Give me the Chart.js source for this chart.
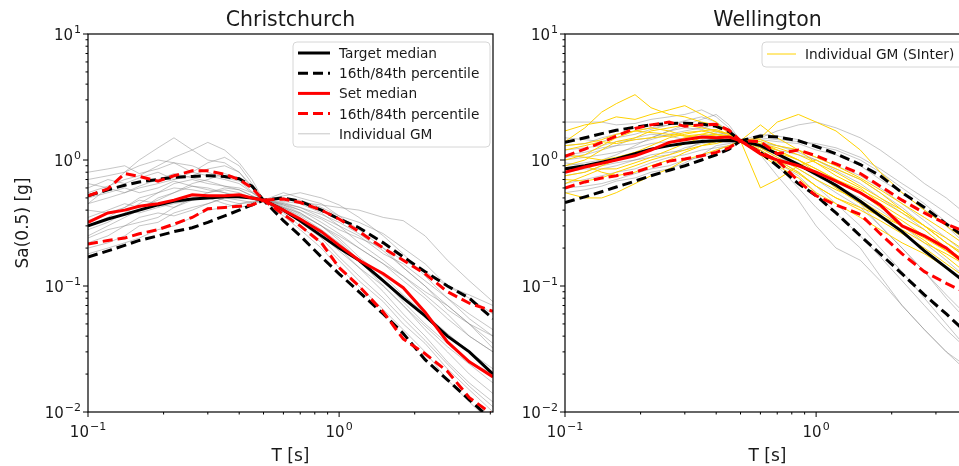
<!DOCTYPE html>
<html>
<head>
<meta charset="utf-8">
<script src="https://cdn.jsdelivr.net/npm/chart.js@4.4.0/dist/chart.umd.min.js"></script>
<style>
  html, body { margin: 0; padding: 0; background: #fff; overflow: hidden; width: 959px; height: 466px; }
  .panel { position: absolute; top: 0; width: 500px; height: 466px; }
  #panel-chc { left: 0; }
  #panel-wlg { left: 480px; }
</style>
</head>
<body>
<div class="panel" id="panel-chc"><canvas id="christchurch" width="500" height="466"></canvas></div>
<div class="panel" id="panel-wlg"><canvas id="wellington" width="500" height="466"></canvas></div>
<script>
// periods T [s]
const periods = [0.1, 0.12, 0.14, 0.16, 0.19, 0.22, 0.26, 0.3, 0.35, 0.4, 0.45, 0.5,
                 0.6, 0.7, 0.85, 1.0, 1.2, 1.5, 1.8, 2.2, 2.7, 3.3, 4.1];
const T_MAX = 4.1;

// ---- Christchurch ----
const chTargetMed = [0.30, 0.34, 0.37, 0.40, 0.44, 0.47, 0.49, 0.50, 0.51, 0.51, 0.50, 0.48,
                     0.40, 0.33, 0.25, 0.20, 0.16, 0.11, 0.08, 0.058, 0.040, 0.030, 0.020];
const chTarget84 = [0.52, 0.58, 0.63, 0.67, 0.70, 0.73, 0.74, 0.75, 0.74, 0.71, 0.62, 0.48,
                    0.50, 0.47, 0.40, 0.34, 0.29, 0.22, 0.17, 0.13, 0.10, 0.08, 0.055];
const chTarget16 = [0.17, 0.19, 0.21, 0.23, 0.25, 0.27, 0.29, 0.32, 0.36, 0.40, 0.44, 0.48,
                    0.33, 0.25, 0.17, 0.125, 0.09, 0.06, 0.042, 0.026, 0.018, 0.0125, 0.0085];
const chSetMed = [0.32, 0.38, 0.40, 0.43, 0.45, 0.48, 0.53, 0.52, 0.52, 0.53, 0.50, 0.48,
                  0.40, 0.34, 0.27, 0.21, 0.16, 0.125, 0.097, 0.062, 0.036, 0.025, 0.019];
const chSet84 = [0.52, 0.59, 0.78, 0.74, 0.68, 0.75, 0.82, 0.82, 0.77, 0.70, 0.60, 0.48,
                 0.49, 0.46, 0.40, 0.34, 0.27, 0.20, 0.16, 0.125, 0.09, 0.073, 0.063];
const chSet16 = [0.215, 0.23, 0.24, 0.26, 0.28, 0.31, 0.35, 0.41, 0.42, 0.43, 0.44, 0.48,
                 0.37, 0.30, 0.22, 0.14, 0.10, 0.062, 0.038, 0.029, 0.021, 0.013, 0.0095];
const chGM = [
  [0.45, 0.6, 0.8, 1.0, 1.25, 1.5, 1.2, 1.0, 0.95, 0.8, 0.6, 0.48, 0.42, 0.38, 0.30, 0.25, 0.2, 0.15, 0.11, 0.08, 0.055, 0.04, 0.03],
  [0.55, 0.62, 0.7, 0.75, 0.9, 1.05, 1.2, 1.38, 1.2, 0.95, 0.7, 0.48, 0.5, 0.46, 0.44, 0.42, 0.40, 0.35, 0.33, 0.25, 0.16, 0.11, 0.075],
  [0.8, 0.85, 0.9, 0.78, 0.85, 0.95, 0.8, 0.75, 0.7, 0.65, 0.55, 0.48, 0.55, 0.5, 0.45, 0.36, 0.32, 0.26, 0.2, 0.15, 0.1, 0.08, 0.06],
  [0.25, 0.3, 0.35, 0.4, 0.5, 0.55, 0.65, 0.7, 0.78, 0.72, 0.6, 0.48, 0.45, 0.4, 0.32, 0.26, 0.2, 0.15, 0.12, 0.09, 0.07, 0.05, 0.04],
  [0.2, 0.22, 0.25, 0.3, 0.32, 0.38, 0.42, 0.45, 0.5, 0.52, 0.5, 0.48, 0.38, 0.3, 0.22, 0.16, 0.11, 0.075, 0.05, 0.035, 0.022, 0.015, 0.01],
  [0.6, 0.7, 0.65, 0.72, 0.8, 0.7, 0.75, 0.85, 0.9, 0.8, 0.62, 0.48, 0.46, 0.42, 0.35, 0.3, 0.25, 0.18, 0.15, 0.11, 0.08, 0.06, 0.045],
  [0.3, 0.35, 0.42, 0.5, 0.55, 0.6, 0.58, 0.55, 0.6, 0.58, 0.52, 0.48, 0.42, 0.35, 0.26, 0.2, 0.14, 0.09, 0.06, 0.04, 0.025, 0.017, 0.012],
  [0.18, 0.2, 0.22, 0.24, 0.28, 0.3, 0.35, 0.4, 0.42, 0.45, 0.47, 0.48, 0.40, 0.33, 0.25, 0.19, 0.14, 0.1, 0.07, 0.045, 0.03, 0.02, 0.014],
  [0.7, 0.75, 0.8, 0.9, 1.0, 0.95, 0.9, 0.8, 0.72, 0.68, 0.56, 0.48, 0.47, 0.45, 0.38, 0.3, 0.22, 0.16, 0.12, 0.085, 0.06, 0.04, 0.03],
  [0.35, 0.4, 0.45, 0.42, 0.48, 0.55, 0.62, 0.6, 0.55, 0.5, 0.5, 0.48, 0.5, 0.48, 0.42, 0.36, 0.28, 0.2, 0.14, 0.1, 0.065, 0.05, 0.035],
  [0.22, 0.25, 0.3, 0.35, 0.38, 0.36, 0.4, 0.45, 0.5, 0.48, 0.46, 0.48, 0.36, 0.28, 0.2, 0.14, 0.1, 0.065, 0.045, 0.03, 0.018, 0.012, 0.008],
  [0.45, 0.5, 0.55, 0.6, 0.65, 0.7, 0.8, 0.95, 1.05, 0.9, 0.65, 0.48, 0.44, 0.4, 0.34, 0.28, 0.24, 0.2, 0.16, 0.13, 0.1, 0.085, 0.07],
  [0.28, 0.32, 0.38, 0.45, 0.55, 0.65, 0.7, 0.65, 0.62, 0.6, 0.55, 0.48, 0.43, 0.37, 0.3, 0.24, 0.17, 0.12, 0.085, 0.06, 0.042, 0.03, 0.022],
  [0.5, 0.55, 0.6, 0.55, 0.6, 0.68, 0.62, 0.58, 0.55, 0.52, 0.5, 0.48, 0.52, 0.55, 0.5, 0.44, 0.35, 0.25, 0.18, 0.12, 0.08, 0.055, 0.04],
  [0.4, 0.38, 0.42, 0.48, 0.45, 0.42, 0.48, 0.52, 0.48, 0.45, 0.46, 0.48, 0.42, 0.36, 0.28, 0.22, 0.16, 0.1, 0.07, 0.048, 0.033, 0.024, 0.017],
  [0.65, 0.6, 0.55, 0.62, 0.7, 0.78, 0.72, 0.68, 0.62, 0.58, 0.52, 0.48, 0.44, 0.38, 0.3, 0.23, 0.16, 0.11, 0.075, 0.05, 0.035, 0.025, 0.02],
  [0.24, 0.28, 0.3, 0.32, 0.35, 0.42, 0.5, 0.55, 0.58, 0.55, 0.5, 0.48, 0.45, 0.42, 0.37, 0.32, 0.26, 0.19, 0.14, 0.1, 0.07, 0.05, 0.032],
  [0.33, 0.38, 0.4, 0.38, 0.42, 0.45, 0.48, 0.5, 0.45, 0.42, 0.44, 0.48, 0.4, 0.32, 0.24, 0.17, 0.12, 0.08, 0.055, 0.037, 0.024, 0.016, 0.011]
];

// ---- Wellington ----
const wlTargetMed = [0.85, 0.9, 0.96, 1.02, 1.12, 1.22, 1.3, 1.36, 1.4, 1.42, 1.43, 1.42,
                     1.3, 1.12, 0.92, 0.77, 0.63, 0.47, 0.36, 0.27, 0.19, 0.14, 0.10];
const wlTarget84 = [1.38, 1.5, 1.62, 1.72, 1.82, 1.9, 1.95, 1.96, 1.93, 1.85, 1.68, 1.42,
                    1.55, 1.52, 1.42, 1.28, 1.12, 0.92, 0.75, 0.55, 0.42, 0.31, 0.23];
const wlTarget16 = [0.46, 0.51, 0.56, 0.61, 0.68, 0.75, 0.83, 0.9, 1.0, 1.1, 1.22, 1.42,
                    1.15, 0.9, 0.65, 0.52, 0.38, 0.25, 0.18, 0.125, 0.085, 0.06, 0.04];
const wlSetMed = [0.8, 0.88, 0.94, 1.0, 1.08, 1.2, 1.38, 1.45, 1.52, 1.5, 1.52, 1.42,
                  1.12, 1.0, 0.9, 0.8, 0.68, 0.55, 0.44, 0.3, 0.25, 0.2, 0.14];
const wlSet84 = [1.07, 1.22, 1.38, 1.55, 1.78, 1.9, 2.0, 1.85, 1.9, 1.92, 1.72, 1.42,
                 1.4, 1.12, 1.2, 1.08, 0.93, 0.78, 0.62, 0.48, 0.38, 0.31, 0.26];
const wlSet16 = [0.6, 0.67, 0.72, 0.75, 0.8, 0.88, 0.98, 1.02, 1.08, 1.15, 1.25, 1.42,
                 1.15, 1.0, 0.68, 0.52, 0.44, 0.37, 0.26, 0.18, 0.13, 0.105, 0.085];
const wlGM = [
  [2.0, 2.0, 2.0, 1.9, 1.95, 2.1, 2.2, 2.3, 2.5, 2.2, 1.8, 1.42, 1.5, 1.7, 1.9, 2.0, 1.8, 1.5, 1.2, 0.9, 0.65, 0.5, 0.35],
  [0.9, 0.95, 1.0, 1.1, 1.3, 1.5, 1.7, 1.9, 2.1, 2.3, 1.9, 1.42, 1.25, 1.1, 0.95, 0.8, 0.6, 0.45, 0.3, 0.2, 0.13, 0.08, 0.05],
  [0.6, 0.62, 0.65, 0.7, 0.78, 0.85, 0.9, 1.0, 1.05, 1.2, 1.3, 1.42, 1.2, 0.9, 0.6, 0.42, 0.3, 0.2, 0.12, 0.07, 0.045, 0.03, 0.02],
  [1.2, 1.25, 1.3, 1.4, 1.45, 1.5, 1.7, 1.8, 1.75, 1.6, 1.5, 1.42, 1.6, 1.55, 1.45, 1.3, 1.2, 1.0, 0.8, 0.6, 0.45, 0.32, 0.22],
  [0.75, 0.8, 0.9, 0.95, 1.0, 1.1, 1.15, 1.2, 1.4, 1.5, 1.45, 1.42, 1.3, 1.1, 0.85, 0.7, 0.55, 0.42, 0.3, 0.2, 0.13, 0.085, 0.055],
  [1.05, 1.1, 1.2, 1.3, 1.5, 1.6, 1.55, 1.45, 1.5, 1.65, 1.6, 1.42, 1.35, 1.3, 1.2, 1.05, 0.9, 0.75, 0.6, 0.45, 0.33, 0.24, 0.17],
  [0.55, 0.58, 0.62, 0.68, 0.72, 0.8, 0.85, 0.95, 1.1, 1.3, 1.35, 1.42, 1.1, 0.75, 0.48, 0.3, 0.2, 0.16, 0.11, 0.07, 0.045, 0.03, 0.022],
  [1.5, 1.45, 1.4, 1.5, 1.6, 1.75, 1.9, 2.0, 1.85, 1.7, 1.55, 1.42, 1.45, 1.4, 1.35, 1.2, 1.1, 0.9, 0.7, 0.55, 0.4, 0.3, 0.2],
  [0.8, 0.85, 0.85, 0.9, 1.0, 1.05, 1.1, 1.25, 1.35, 1.4, 1.5, 1.42, 1.25, 1.05, 0.9, 0.75, 0.62, 0.5, 0.4, 0.3, 0.22, 0.16, 0.11],
  [1.3, 1.35, 1.5, 1.6, 1.7, 1.8, 1.9, 2.05, 2.2, 2.0, 1.7, 1.42, 1.3, 1.2, 1.1, 1.0, 0.85, 0.7, 0.55, 0.42, 0.3, 0.22, 0.16],
  [0.65, 0.7, 0.75, 0.8, 0.85, 0.95, 1.05, 1.1, 1.2, 1.25, 1.3, 1.42, 1.15, 0.95, 0.75, 0.55, 0.38, 0.25, 0.17, 0.11, 0.07, 0.045, 0.03],
  [1.0, 1.05, 1.1, 1.15, 1.25, 1.35, 1.4, 1.5, 1.55, 1.6, 1.55, 1.42, 1.5, 1.45, 1.4, 1.35, 1.25, 1.05, 0.85, 0.65, 0.5, 0.38, 0.28],
  [0.95, 0.9, 0.95, 1.0, 1.1, 1.2, 1.3, 1.35, 1.45, 1.55, 1.5, 1.42, 1.2, 1.0, 0.8, 0.62, 0.45, 0.3, 0.2, 0.13, 0.08, 0.05, 0.03],
  [1.1, 1.15, 1.25, 1.3, 1.35, 1.45, 1.6, 1.7, 1.8, 1.9, 1.75, 1.42, 1.4, 1.3, 1.15, 1.0, 0.82, 0.65, 0.5, 0.38, 0.28, 0.2, 0.14]
];
const wlSInter = [
  [1.4, 1.8, 2.4, 2.8, 3.3, 2.6, 2.3, 2.2, 2.0, 1.9, 1.7, 1.42, 1.3, 1.2, 1.0, 0.8, 0.6, 0.45, 0.35, 0.28, 0.22, 0.18, 0.14],
  [1.7, 1.9, 2.0, 2.2, 2.1, 2.3, 2.5, 2.7, 2.3, 2.0, 1.6, 1.42, 1.9, 1.5, 1.2, 0.95, 0.75, 0.6, 0.45, 0.35, 0.28, 0.2, 0.15],
  [0.55, 0.5, 0.5, 0.55, 0.65, 0.75, 0.85, 1.0, 1.1, 1.2, 1.3, 1.42, 0.6, 0.7, 0.9, 1.0, 0.85, 0.7, 0.55, 0.4, 0.3, 0.22, 0.16],
  [0.9, 1.0, 1.2, 1.4, 1.5, 1.7, 1.8, 1.9, 1.8, 1.7, 1.6, 1.42, 1.5, 2.0, 2.3, 2.0, 1.7, 1.2, 0.8, 0.55, 0.4, 0.3, 0.22],
  [1.1, 1.05, 1.0, 1.05, 1.15, 1.3, 1.5, 1.6, 1.7, 1.75, 1.6, 1.42, 1.3, 1.15, 1.0, 0.85, 0.7, 0.55, 0.42, 0.33, 0.25, 0.19, 0.14],
  [0.75, 0.8, 0.9, 1.0, 1.15, 1.2, 1.35, 1.5, 1.6, 1.55, 1.5, 1.42, 1.2, 1.0, 0.8, 0.62, 0.5, 0.4, 0.33, 0.26, 0.2, 0.15, 0.11],
  [0.65, 0.75, 0.85, 0.85, 0.95, 1.05, 1.2, 1.35, 1.5, 1.6, 1.55, 1.42, 1.1, 0.9, 0.72, 0.55, 0.45, 0.35, 0.28, 0.22, 0.18, 0.14, 0.1],
  [1.3, 1.35, 1.45, 1.6, 1.7, 1.65, 1.6, 1.55, 1.6, 1.7, 1.6, 1.42, 1.35, 1.25, 1.1, 0.95, 0.8, 0.62, 0.5, 0.4, 0.3, 0.24, 0.18],
  [0.85, 0.9, 0.8, 0.75, 0.8, 0.9, 1.0, 1.15, 1.3, 1.4, 1.45, 1.42, 1.15, 0.95, 0.78, 0.62, 0.5, 0.42, 0.36, 0.3, 0.24, 0.19, 0.15],
  [1.0, 1.1, 1.3, 1.5, 1.7, 1.8, 1.7, 1.55, 1.5, 1.6, 1.55, 1.42, 1.45, 1.3, 1.2, 1.05, 0.9, 0.72, 0.58, 0.45, 0.35, 0.27, 0.2],
  [0.7, 0.68, 0.72, 0.8, 0.9, 1.0, 1.1, 1.2, 1.3, 1.35, 1.45, 1.42, 1.25, 1.05, 0.85, 0.7, 0.58, 0.48, 0.38, 0.3, 0.23, 0.17, 0.12],
  [1.2, 1.3, 1.4, 1.35, 1.45, 1.5, 1.55, 1.65, 1.7, 1.6, 1.5, 1.42, 1.4, 1.2, 1.0, 0.85, 0.7, 0.58, 0.48, 0.38, 0.3, 0.22, 0.17]
];

const FONT = '"DejaVu Sans", sans-serif';
const DASH = [10, 5];
const styles = {
  gm:        { borderColor: 'rgba(128,128,128,0.45)', borderWidth: 1, order: 4 },
  sinter:    { borderColor: '#ffd200', borderWidth: 1, order: 3 },
  targetMed: { borderColor: '#000000', borderWidth: 3, order: 2 },
  targetPct: { borderColor: '#000000', borderWidth: 3, borderDash: DASH, order: 2 },
  setMed:    { borderColor: '#ff0000', borderWidth: 3, order: 1 },
  setPct:    { borderColor: '#ff0000', borderWidth: 3, borderDash: DASH, order: 1 }
};

function series(values, style){
  return Object.assign({
    data: periods.map((t, i) => ({ x: t, y: values[i] })),
    pointRadius: 0,
    tension: 0,
    fill: false,
    clip: 0
  }, style);
}

function buildSets(gm, sinter, med, p16, p84, sMed, s16, s84){
  const sets = [];
  gm.forEach(v => sets.push(series(v, styles.gm)));
  sinter.forEach(v => sets.push(series(v, styles.sinter)));
  sets.push(series(med, styles.targetMed));
  sets.push(series(p84, styles.targetPct));
  sets.push(series(p16, styles.targetPct));
  sets.push(series(sMed, styles.setMed));
  sets.push(series(s84, styles.setPct));
  sets.push(series(s16, styles.setPct));
  return sets;
}

function line(ctx, x1, y1, x2, y2){
  ctx.beginPath(); ctx.moveTo(x1, y1); ctx.lineTo(x2, y2); ctx.stroke();
}

// "10" with a raised exponent, like mathtext tick labels
function powLabel(ctx, exp, x, y, align){
  ctx.font = '15px ' + FONT;
  const bw = ctx.measureText('10').width;
  const sup = exp < 0 ? '\u2212' + (-exp) : String(exp);
  ctx.font = '11px ' + FONT;
  const sw = ctx.measureText(sup).width;
  const total = bw + 1 + sw;
  const x0 = align === 'center' ? x - total / 2 : x - total;
  ctx.textAlign = 'left';
  ctx.textBaseline = 'alphabetic';
  ctx.font = '15px ' + FONT;
  ctx.fillText('10', x0, y);
  ctx.font = '11px ' + FONT;
  ctx.fillText(sup, x0 + bw + 1, y - 7);
}

function drawLegend(ctx, box, items){
  ctx.save();
  const r = 4;
  ctx.beginPath();
  ctx.moveTo(box.x + r, box.y);
  ctx.arcTo(box.x + box.w, box.y, box.x + box.w, box.y + box.h, r);
  ctx.arcTo(box.x + box.w, box.y + box.h, box.x, box.y + box.h, r);
  ctx.arcTo(box.x, box.y + box.h, box.x, box.y, r);
  ctx.arcTo(box.x, box.y, box.x + box.w, box.y, r);
  ctx.closePath();
  ctx.fillStyle = 'rgba(255,255,255,0.8)';
  ctx.fill();
  ctx.strokeStyle = '#d6d6d6';
  ctx.lineWidth = 1;
  ctx.stroke();
  items.forEach((it, i) => {
    const y = box.first + i * box.step;
    ctx.save();
    ctx.strokeStyle = it.color;
    ctx.lineWidth = it.width;
    ctx.setLineDash(it.dash || []);
    line(ctx, box.x + 5, y, box.x + box.sample, y);
    ctx.restore();
    ctx.fillStyle = '#1a1a1a';
    ctx.font = '13.7px ' + FONT;
    ctx.textAlign = 'left';
    ctx.textBaseline = 'alphabetic';
    ctx.fillText(it.label, box.x + box.text, y + 5);
  });
  ctx.restore();
}

// spines, log ticks, titles and legend drawn over the lines
const axesFrame = {
  id: 'axesFrame',
  afterDraw(chart, args, opts){
    const ctx = chart.ctx, a = chart.chartArea;
    const xs = chart.scales.x, ys = chart.scales.y;
    ctx.save();
    ctx.strokeStyle = '#000';
    ctx.lineWidth = 1.2;
    ctx.strokeRect(a.left, a.top, a.right - a.left, a.bottom - a.top);

    ctx.lineWidth = 1;
    ctx.fillStyle = '#1a1a1a';
    for (let e = -1; e <= 0; e++){
      for (let m = 1; m < 10; m++){
        const v = m * Math.pow(10, e);
        if (v > T_MAX) continue;
        const px = xs.getPixelForValue(v);
        line(ctx, px, a.bottom, px, a.bottom + (m === 1 ? 5 : 2.5));
        if (m === 1) powLabel(ctx, e, px, 437, 'center');
      }
    }
    for (let e = -2; e <= 1; e++){
      for (let m = 1; m < 10; m++){
        if (e === 1 && m > 1) continue;
        const py = ys.getPixelForValue(m * Math.pow(10, e));
        line(ctx, a.left, py, a.left - (m === 1 ? 5 : 2.5), py);
        if (m === 1) powLabel(ctx, e, a.left - 7, py + 5.5, 'right');
      }
    }

    const cx = (a.left + a.right) / 2;
    ctx.textAlign = 'center';
    ctx.textBaseline = 'alphabetic';
    ctx.font = '20.5px ' + FONT;
    ctx.fillText(opts.title, cx, 26);
    ctx.font = '17px ' + FONT;
    ctx.fillText('T [s]', cx, 461);
    if (opts.yTitle){
      ctx.save();
      ctx.translate(28, (a.top + a.bottom) / 2);
      ctx.rotate(-Math.PI / 2);
      ctx.fillText(opts.yTitle, 0, 0);
      ctx.restore();
    }
    drawLegend(ctx, opts.legendBox, opts.legendItems);
    ctx.restore();
  }
};

function makeChart(id, datasets, padding, frame){
  return new Chart(document.getElementById(id), {
    type: 'line',
    data: { datasets },
    options: {
      responsive: false,
      animation: false,
      devicePixelRatio: 1,
      layout: { padding },
      plugins: { legend: { display: false }, tooltip: { enabled: false }, axesFrame: frame },
      scales: {
        x: { type: 'logarithmic', min: 0.1, max: T_MAX, display: false },
        y: { type: 'logarithmic', min: 0.01, max: 10, display: false }
      }
    },
    plugins: [axesFrame]
  });
}

makeChart('christchurch',
  buildSets(chGM, [], chTargetMed, chTarget16, chTarget84, chSetMed, chSet16, chSet84),
  { left: 88, top: 34, right: 7, bottom: 54 },
  {
    title: 'Christchurch',
    yTitle: 'Sa(0.5) [g]',
    legendBox: { x: 293, y: 42, w: 197, h: 105, first: 53, step: 20.2, sample: 37, text: 46 },
    legendItems: [
      { label: 'Target median', color: '#000', width: 3 },
      { label: '16th/84th percentile', color: '#000', width: 3, dash: DASH },
      { label: 'Set median', color: '#ff0000', width: 3 },
      { label: '16th/84th percentile', color: '#ff0000', width: 3, dash: DASH },
      { label: 'Individual GM', color: 'rgba(128,128,128,0.45)', width: 1 }
    ]
  });

makeChart('wellington',
  buildSets(wlGM, wlSInter, wlTargetMed, wlTarget16, wlTarget84, wlSetMed, wlSet16, wlSet84),
  { left: 85, top: 34, right: 10, bottom: 54 },
  {
    title: 'Wellington',
    legendBox: { x: 282, y: 42, w: 208, h: 25, first: 54, step: 20, sample: 34, text: 43 },
    legendItems: [
      { label: 'Individual GM (SInter)', color: '#ffd200', width: 1 }
    ]
  });
</script>
</body>
</html>
